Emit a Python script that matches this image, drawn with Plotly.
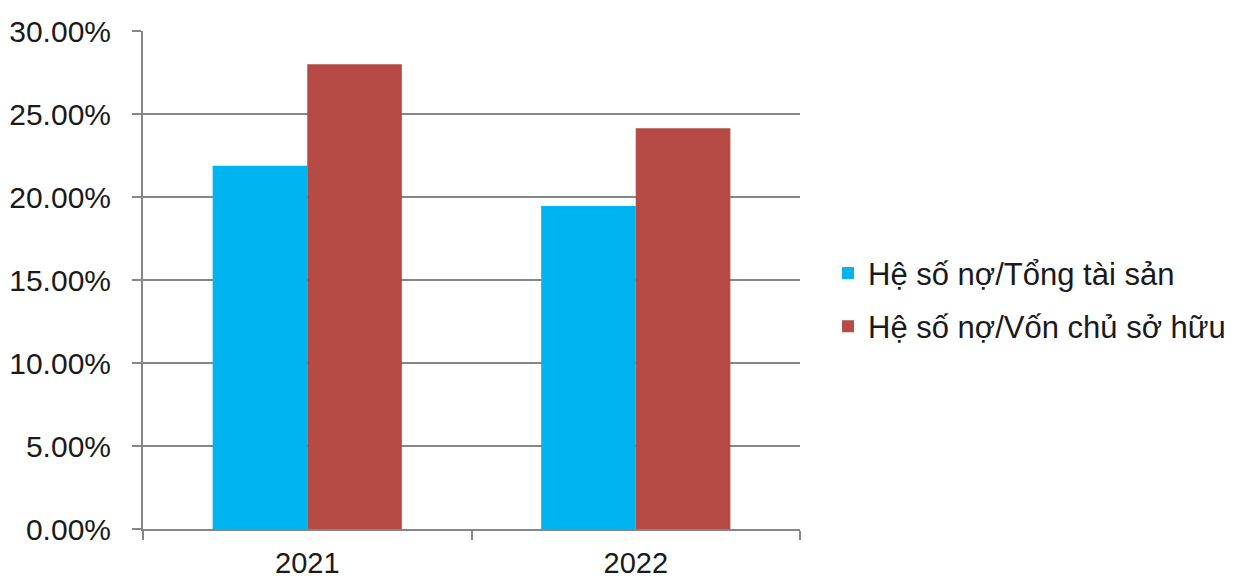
import plotly.graph_objects as go

years = ["2021", "2022"]
debt_to_assets = [0.2189, 0.1946]
debt_to_equity = [0.2799, 0.2414]
series_names = ["Hệ số nợ/Tổng tài sản", "Hệ số nợ/Vốn chủ sở hữu"]
colors = ["#00B4F0", "#B64B45"]
y_ticks = [0, 0.05, 0.10, 0.15, 0.20, 0.25, 0.30]

fig = go.Figure()
for name, vals, col in zip(series_names, [debt_to_assets, debt_to_equity], colors):
    fig.add_trace(go.Bar(x=years, y=vals, name=name, marker_color=col,
                         marker_line_width=0, legendgroup=name))

FONT = "Liberation Sans, Arial, sans-serif"
fig.update_layout(
    width=1234, height=579,
    margin=dict(l=143, r=434, t=31, b=50, autoexpand=False),
    paper_bgcolor="white", plot_bgcolor="white",
    barmode="group", bargap=0.424, bargroupgap=0,
    font=dict(family=FONT, size=30, color="#1a1a1a"),
    showlegend=True,
    legend=dict(xref="container", yref="container", x=0.671, y=0.482,
                xanchor="left", yanchor="middle",
                font=dict(size=31, family=FONT), tracegroupgap=10,
                itemwidth=30, bgcolor="rgba(0,0,0,0)"),
    xaxis=dict(showgrid=False, showline=True, linecolor="#868686", linewidth=2,
               ticks="outside", tickson="boundaries", ticklen=9, tickcolor="#868686",
               tickwidth=2, tickfont=dict(size=29), zeroline=False,
               automargin=False, ticklabelstandoff=7),
    yaxis=dict(range=[0, 0.30], tickvals=y_ticks, tickformat=".2%",
               showgrid=True, gridcolor="#868686", gridwidth=2,
               showline=True, linecolor="#868686", linewidth=2,
               ticks="outside", ticklen=9, tickcolor="#868686", tickwidth=2,
               tickfont=dict(size=30), zeroline=False,
               automargin=False, ticklabelstandoff=15),
)
fig.write_html("out.html")
